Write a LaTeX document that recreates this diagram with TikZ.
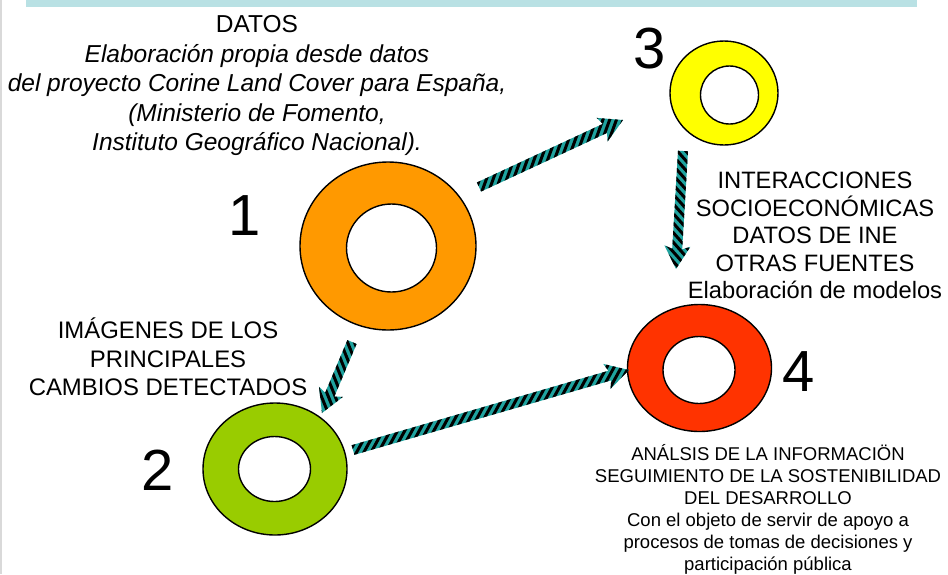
\documentclass[tikz,border=0pt]{standalone}
\usepackage{fontspec}
\setmainfont{Liberation Sans}
\usetikzlibrary{calc,shapes.geometric}
\definecolor{barblue}{HTML}{B9E1E4}
\definecolor{edgegray}{HTML}{D9D9D9}
\definecolor{arrteal}{HTML}{1FA39F}
\definecolor{ringorange}{HTML}{FF9900}
\definecolor{ringgreen}{HTML}{99CC00}
\definecolor{ringyellow}{HTML}{FFFF00}
\definecolor{ringred}{HTML}{FF3300}
\tikzset{
  ring/.style={ellipse, draw=black, line width=1.4pt, inner sep=0pt},
  hole/.style={ellipse, draw=black, line width=1.4pt, fill=white, inner sep=0pt},
  bignum/.style={inner sep=0pt, font=\fontsize{58}{58}\selectfont},
  bigtext/.style={inner sep=0pt, align=center, anchor=north},
}
\newcommand\hatcharrow[2]{%
  \path let \p1=($(#2)-(#1)$) in \pgfextra{%
    \pgfmathparse{atan2(\y1,\x1)}\xdef\arrang{\pgfmathresult}%
    \pgfmathparse{veclen(\x1,\y1)}\xdef\arrlen{\pgfmathresult}%
    \pgfmathtruncatemacro\arrend{\arrlen+12}\xdef\arrend{\arrend}};
  \begin{scope}[shift={(#1)},rotate=\arrang]
    \path[fill=arrteal] (0pt,-5pt) -- (\arrlen pt-20pt,-5pt) -- (\arrlen pt-23pt,-13pt) -- (\arrlen pt,0pt) -- (\arrlen pt-23pt,13pt) -- (\arrlen pt-20pt,5pt) -- (0pt,5pt) -- cycle;
    \clip (0pt,-5pt) -- (\arrlen pt-20pt,-5pt) -- (\arrlen pt-23pt,-13pt) -- (\arrlen pt,0pt) -- (\arrlen pt-23pt,13pt) -- (\arrlen pt-20pt,5pt) -- (0pt,5pt) -- cycle;
    \foreach \s in {-12,-3,...,\arrend} \draw[black, line width=3pt] (\s pt-14pt,-14pt) -- (\s pt+14pt,14pt);
  \end{scope}}
\begin{document}
\begin{tikzpicture}[x=1pt,y=-1pt]
\useasboundingbox (0,0) rectangle (948,574);
\fill[white] (0,0) rectangle (948,574);
\fill[edgegray] (0,0) rectangle (2,574);
\fill[barblue] (26,0) rectangle (917,7);

% rings
\node[ring, fill=ringorange, minimum width=176pt, minimum height=168pt] (r1) at (388,246) {};
\node[hole, minimum width=90pt, minimum height=88pt] (h1) at (391.5,248) {};
\node[ring, fill=ringgreen, minimum width=144pt, minimum height=132pt] (r2) at (275,469) {};
\node[hole, minimum width=72pt, minimum height=65pt] (h2) at (274.5,469) {};
\node[ring, fill=ringyellow, minimum width=108pt, minimum height=104pt] (r3) at (724,93) {};
\node[hole, minimum width=58pt, minimum height=58pt] (h3) at (729.5,95) {};
\node[ring, fill=ringred, minimum width=144pt, minimum height=127pt] (r4) at (699.5,368) {};
\node[hole, minimum width=72pt, minimum height=67pt] (h4) at (699,370) {};

% numbers
\node[bignum] (n1) at (245,216) {1};
\node[bignum] (n2) at (158,470) {2};
\node[bignum] (n3) at (650,49) {3};
\node[bignum] (n4) at (799,372) {4};

% arrows
\coordinate (a13s) at (479,187);
\coordinate (a13e) at (623,120);
\coordinate (a12s) at (352,342);
\coordinate (a12e) at (322,413);
\coordinate (a24s) at (353,450);
\coordinate (a24e) at (629,370);
\coordinate (a34s) at (683,151);
\coordinate (a34e) at (676,269);
\hatcharrow{a13s}{a13e}
\hatcharrow{a12s}{a12e}
\hatcharrow{a24s}{a24e}
\hatcharrow{a34s}{a34e}

% texts
\node[bigtext, font=\fontsize{24.5}{29.5}\selectfont] (datos) at (257,15.5) {DATOS\\
\itshape Elaboración propia desde datos\\
\itshape del proyecto Corine Land Cover para España,\\
\itshape (Ministerio de Fomento,\\
\itshape Instituto Geográfico Nacional).};
\node[bigtext, font=\fontsize{23.7}{27.5}\selectfont] (inter) at (815,172) {INTERACCIONES\\SOCIOECONÓMICAS\\DATOS DE INE\\OTRAS FUENTES\\Elaboración de modelos};
\node[bigtext, font=\fontsize{23.9}{28.5}\selectfont] (imag) at (168,318) {IMÁGENES DE LOS\\PRINCIPALES\\CAMBIOS DETECTADOS};
\node[bigtext, font=\fontsize{18.5}{22}\selectfont] (anal) at (768,444) {ANÁLSIS DE LA INFORMACIÖN\\SEGUIMIENTO DE LA SOSTENIBILIDAD\\DEL DESARROLLO\\Con el objeto de servir de apoyo a\\procesos de tomas de decisiones y\\participación pública};
\end{tikzpicture}
\end{document}
